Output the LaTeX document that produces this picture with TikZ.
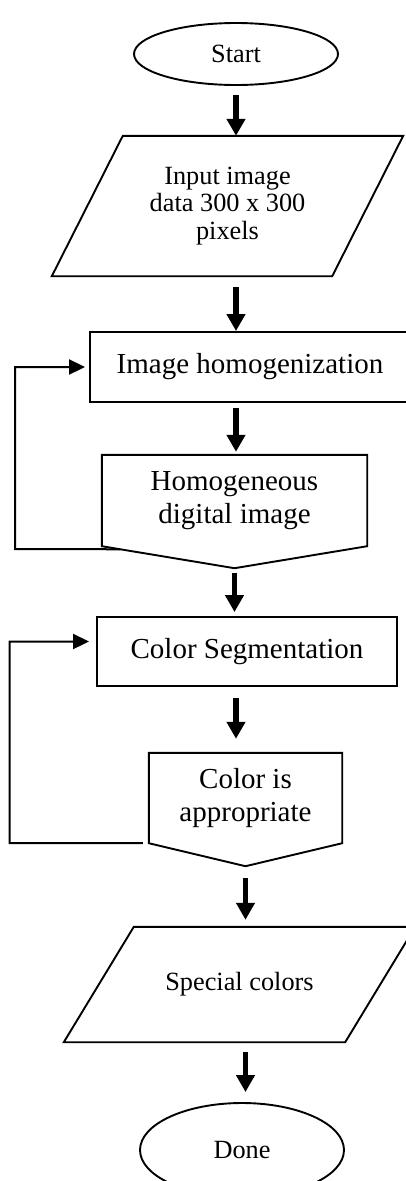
\documentclass[tikz,border=0pt]{standalone}
\usepackage{fontspec}
\setmainfont{Liberation Serif}
\usetikzlibrary{shapes.geometric, arrows.meta, calc}
\newcommand\smalltxt{\fontsize{26.3pt}{27.5pt}\selectfont}
\newcommand\bigtxt{\fontsize{29pt}{33.5pt}\selectfont}

\begin{document}
\begin{tikzpicture}[x=1pt, y=-1pt,
  outline/.style={line width=1.9pt},
  term/.style={ellipse, draw, outline, minimum width=204pt, inner sep=0pt, font=\smalltxt},
  procbox/.style={rectangle, draw, outline, inner sep=0pt, font=\bigtxt},
  textbox/.style={rectangle, inner sep=0pt, align=center},
  flow/.style={line width=5.5pt, -{Triangle[width=18pt, length=17pt]}},
  loopline/.style={line width=2pt, -{Triangle[width=15pt, length=16pt]}}]
\useasboundingbox (0,0) rectangle (406,1181);
% --- terminals and process blocks ---
\node[term, minimum height=62pt] (start) at (236,54) {Start};
\node[textbox, font=\smalltxt, minimum width=351pt, minimum height=140pt] (input) at (227.5,206)
  {Input image\\data 300 x 300\\pixels};
\draw[outline] ([xshift=71pt]input.north west) -- (input.north east) --
  ([xshift=-71pt]input.south east) -- (input.south west) -- cycle;
\node[procbox, minimum width=320pt, minimum height=70pt] (homog) at (250,367) {Image homogenization};
% off-page style block
\node[textbox, font=\bigtxt, minimum width=265pt, minimum height=91pt] (homimg) at (234.5,500.5)
  {Homogeneous\\digital image};
\coordinate (homimg-tip) at ([yshift=-22pt]homimg.south);
\draw[outline] (homimg.south west) -- (homimg.north west) -- (homimg.north east) --
  (homimg.south east) -- (homimg-tip) -- cycle;
\node[procbox, minimum width=300pt, minimum height=69pt] (colseg) at (247,651.5) {Color Segmentation};
\node[textbox, font=\bigtxt, minimum width=193pt, minimum height=90pt] (colok) at (245.5,798)
  {Color is\\appropriate};
\coordinate (colok-tip) at ([yshift=-23pt]colok.south);
\draw[outline] (colok.south west) -- (colok.north west) -- (colok.north east) --
  (colok.south east) -- (colok-tip) -- cycle;
% output parallelogram
\node[textbox, font=\smalltxt, minimum width=351pt, minimum height=115pt] (special) at (239.5,984.5)
  {Special colors};
\draw[outline] ([xshift=70pt]special.north west) -- (special.north east) --
  ([xshift=-70pt]special.south east) -- (special.south west) -- cycle;
\node[term, minimum height=94pt] (done) at (242,1150) {Done};
% --- main flow ---
\draw[flow, shorten <=9pt] (start.south) -- (start.south |- input.north);
\draw[flow, shorten <=11pt] (start |- input.south) -- (start |- homog.north);
\draw[flow, shorten <=5pt, shorten >=3pt] (start |- homog.south) -- (start |- homimg.north);
\draw[flow, shorten <=5pt, shorten >=4pt] (homimg-tip) -- (homimg-tip |- colseg.north);
\draw[flow, shorten <=11pt, shorten >=14pt] (start |- colseg.south) -- (start |- colok.north);
\draw[flow, shorten <=12pt, shorten >=7pt] (colok-tip) -- (colok-tip |- special.north);
\draw[flow, shorten <=10pt, shorten >=10pt] (colok-tip |- special.south) -- (colok-tip |- done.north);
% --- feedback loops ---
\coordinate (loopA) at (15,549);
\coordinate (loopB) at (9.5,843);
\draw[loopline, shorten >=4pt] ($(homimg.south west)!0.14!(homimg-tip)$) -- (loopA) |- (homog.west);
\draw[loopline, shorten <=6pt, shorten >=7pt] (colok.south west) -- (loopB) |- ([yshift=10pt]colseg.west);
\end{tikzpicture}
\end{document}
